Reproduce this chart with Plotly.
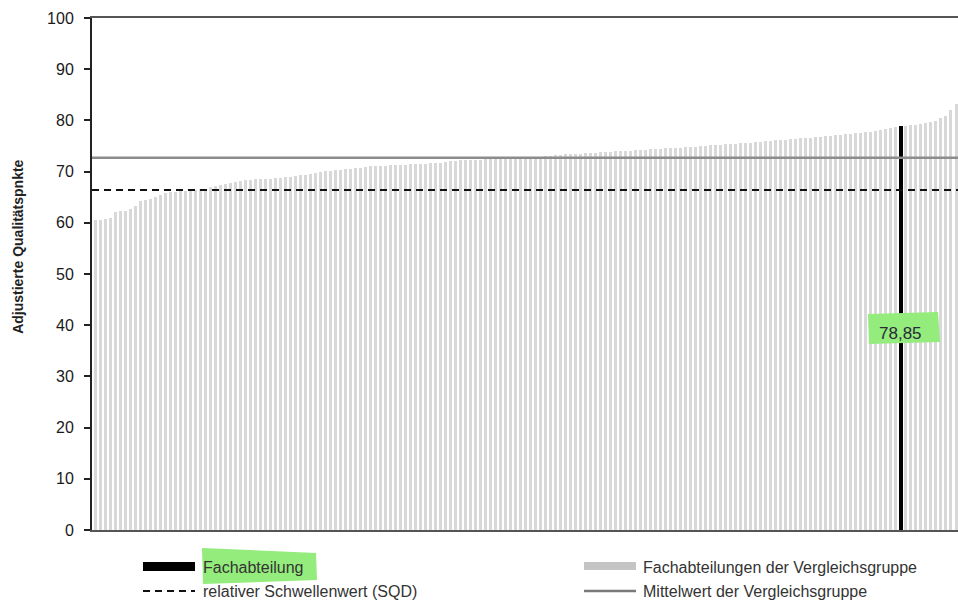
import plotly.graph_objects as go

# ---- data ----
group_values = [
    60.5, 60.6, 60.7, 60.9, 62.2, 62.3, 62.4, 62.6, 63.2, 64.2,
    64.4, 64.7, 65.0, 65.4, 65.8, 66.0, 66.1, 66.2, 66.3, 66.4,
    66.5, 66.6, 66.7, 66.9, 67.1, 67.4, 67.6, 67.8, 68.0, 68.1,
    68.3, 68.4, 68.5, 68.5, 68.6, 68.6, 68.7, 68.8, 68.9, 69.0,
    69.1, 69.3, 69.4, 69.5, 69.7, 70.0, 70.1, 70.2, 70.3, 70.4,
    70.5, 70.6, 70.7, 70.8, 70.9, 71.0, 71.0, 71.1, 71.1, 71.2,
    71.2, 71.3, 71.3, 71.4, 71.4, 71.5, 71.5, 71.6, 71.6, 71.7,
    71.8, 72.0, 72.1, 72.2, 72.2, 72.3, 72.3, 72.3, 72.4, 72.4,
    72.4, 72.5, 72.5, 72.6, 72.6, 72.6, 72.7, 72.7, 72.8, 72.9,
    73.0, 73.1, 73.2, 73.3, 73.4, 73.4, 73.5, 73.5, 73.6, 73.7,
    73.7, 73.8, 73.8, 73.9, 74.0, 74.0, 74.1, 74.1, 74.2, 74.3,
    74.3, 74.4, 74.4, 74.5, 74.6, 74.6, 74.7, 74.7, 74.8, 74.8,
    74.9, 75.0, 75.0, 75.1, 75.2, 75.2, 75.3, 75.4, 75.4, 75.5,
    75.6, 75.6, 75.7, 75.8, 75.9, 76.0, 76.1, 76.2, 76.2, 76.3,
    76.4, 76.5, 76.5, 76.6, 76.7, 76.8, 76.9, 77.0, 77.1, 77.2,
    77.3, 77.4, 77.5, 77.6, 77.7, 77.8, 77.9, 78.1, 78.3, 78.5,
    78.7, 78.85, 79.0, 79.1, 79.2, 79.3, 79.4, 79.6, 79.9,
    80.5, 80.9, 82.0, 83.2,
]
own_index = 161
own_value = 78.85
mean_value = 72.7
threshold_value = 66.4
y_ticks = [0, 10, 20, 30, 40, 50, 60, 70, 80, 90, 100]
y_title = "Adjustierte Qualitätspnkte"
legend_labels = [
    "Fachabteilung",
    "relativer Schwellenwert (SQD)",
    "Fachabteilungen der Vergleichsgruppe",
    "Mittelwert der Vergleichsgruppe",
]

x_idx = list(range(len(group_values)))
FONT = "Liberation Sans, Arial, sans-serif"

fig = go.Figure()
fig.add_trace(go.Bar(
    x=x_idx, y=group_values, width=0.6,
    marker=dict(color="#d8d8d8", line=dict(width=0)),
    hoverinfo="y", showlegend=False,
))
fig.add_trace(go.Bar(
    x=[own_index], y=[own_value], width=0.85,
    marker=dict(color="#000000", line=dict(width=0)),
    showlegend=False,
))

shapes = []
shapes.append(dict(type="line", xref="paper", x0=0, x1=1, yref="y",
                   y0=mean_value, y1=mean_value,
                   line=dict(color="#8c8c8c", width=2.5)))
shapes.append(dict(type="line", xref="paper", x0=0, x1=1, yref="y",
                   y0=threshold_value, y1=threshold_value,
                   line=dict(color="#111111", width=2, dash="7px,5px")))

L, T, W, H = 92, 18, 866, 512
def px(x):
    return (x - L) / W
def py(y):
    return (T + H - y) / H

shapes.append(dict(type="path", xref="paper", yref="paper",
                   path=f"M {px(868)},{py(314)} L {px(938)},{py(312)} L {px(940)},{py(342)} L {px(869)},{py(344)} Z",
                   fillcolor="#93ec7c", line=dict(width=0), layer="above"))
shapes.append(dict(type="path", xref="paper", yref="paper",
                   path=f"M {px(202)},{py(548)} L {px(316)},{py(553)} L {px(317)},{py(580)} L {px(203)},{py(584)} Z",
                   fillcolor="#93ec7c", line=dict(width=0), layer="above"))

shapes.append(dict(type="rect", xref="paper", yref="paper",
                   x0=px(143), x1=px(195), y0=py(571), y1=py(562),
                   fillcolor="#000000", line=dict(width=0)))
shapes.append(dict(type="line", xref="paper", yref="paper",
                   x0=px(143), x1=px(195), y0=py(591), y1=py(591),
                   line=dict(color="#111111", width=2, dash="7px,5px")))
shapes.append(dict(type="rect", xref="paper", yref="paper",
                   x0=px(584), x1=px(636), y0=py(570), y1=py(562),
                   fillcolor="#c4c4c4", line=dict(width=0)))
shapes.append(dict(type="line", xref="paper", yref="paper",
                   x0=px(584), x1=px(636), y0=py(591), y1=py(591),
                   line=dict(color="#7a7a7a", width=2.5)))

annotations = []
annotations.append(dict(xref="x", yref="y", x=own_index, y=38.4,
                        text=f"{own_value:.2f}".replace(".", ","),
                        showarrow=False, font=dict(family=FONT, size=17, color="#2a2a3a")))
legend_pos = [(201, 567), (201, 591), (641, 567), (641, 591)]
for (lx, ly), lab in zip(legend_pos, legend_labels):
    annotations.append(dict(xref="paper", yref="paper", x=px(lx), y=py(ly),
                            xanchor="left", yanchor="middle", text=lab,
                            showarrow=False,
                            font=dict(family=FONT, size=16, color="#333333")))
annotations.append(dict(xref="paper", yref="paper", x=px(18), y=0.553,
                        xanchor="center", yanchor="middle", textangle=-90,
                        text=f"<b>{y_title}</b>", showarrow=False,
                        font=dict(family=FONT, size=14, color="#222222")))

fig.update_layout(
    width=958, height=603,
    margin=dict(l=L, r=958 - L - W, t=T, b=603 - T - H, pad=0),
    paper_bgcolor="white", plot_bgcolor="white",
    barmode="overlay", bargap=0,
    shapes=shapes, annotations=annotations,
    showlegend=False,
    font=dict(family=FONT),
)
fig.update_xaxes(range=[-0.6, 172.4], showticklabels=False, ticks="",
                 showgrid=False, zeroline=False,
                 showline=True, linecolor="#555555", linewidth=2, mirror=True)
fig.update_yaxes(range=[0, 100], tickvals=y_ticks, ticks="outside", ticklen=6,
                 tickcolor="#222222", tickwidth=1.5, ticklabelstandoff=7,
                 showgrid=False, zeroline=False,
                 showline=True, linecolor="#222222", linewidth=2,
                 tickfont=dict(family=FONT, size=16, color="#1a1a1a"))

fig.write_html(
    "out.html",
    config={"responsive": False, "displayModeBar": False},
    post_script="document.body.style.margin='0';document.body.style.overflow='hidden';",
)
